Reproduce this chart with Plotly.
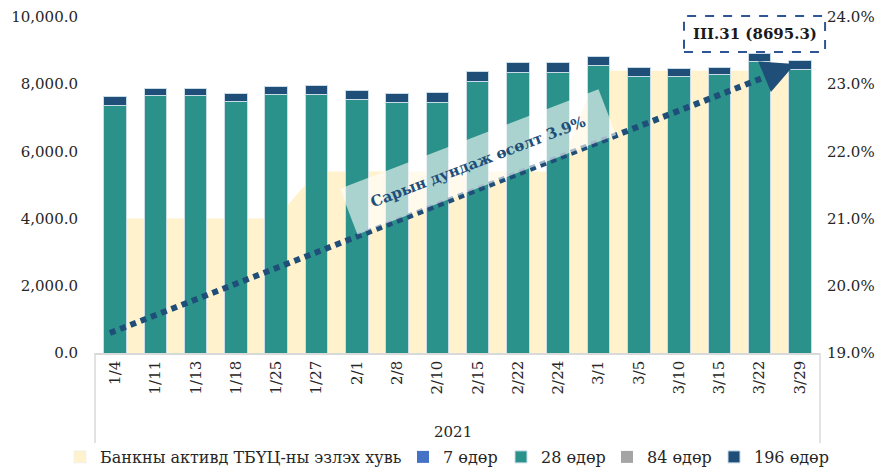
import plotly.graph_objects as go

categories = ["1/4", "1/11", "1/13", "1/18", "1/25", "1/27", "2/1", "2/8", "2/10",
              "2/15", "2/22", "2/24", "3/1", "3/5", "3/10", "3/15", "3/22", "3/29"]
share_pct = [21.0, 21.0, 21.0, 21.0, 21.0, 21.7, 21.7, 21.7, 21.7,
             21.7, 21.7, 21.7, 23.2, 23.2, 23.2, 23.2, 23.2, 23.2]
d7 = [0] * 18
d28 = [7381, 7649, 7649, 7500, 7699, 7699, 7530, 7460, 7460,
       8095, 8363, 8363, 8571, 8244, 8244, 8274, 8661, 8452]
d84 = [0] * 18
d196 = [250, 229, 229, 229, 238, 267, 288, 269, 299,
        277, 287, 277, 268, 258, 218, 218, 238, 243.3]
last_label = "III.31 (8695.3)"
trend_label = "Сарын дундаж өсөлт 3.9%"
group_label = "2021"
legend_names = ["Банкны активд ТБҮЦ-ны эзлэх хувь", "7 өдөр", "28 өдөр", "84 өдөр", "196 өдөр"]

FONT = "DejaVu Serif"
TXT = "#262626"
NAVY = "#1F4E79"
W, H = 881, 468

fig = go.Figure()

# Area on primary (percent, right side) so that bars on y2 draw above it
fig.add_trace(go.Scatter(x=categories, y=share_pct, mode="lines", line=dict(width=0),
                         fill="tozeroy", fillcolor="#FFF2CC", yaxis="y",
                         showlegend=False, hoverinfo="skip"))

bar_line = dict(color="#C9DCE6", width=1)
fig.add_trace(go.Bar(x=categories, y=[None] * len(categories), name=legend_names[0],
                     marker=dict(color="#FFF2CC"), yaxis="y2", legend="legend"))
fig.add_trace(go.Bar(x=categories, y=d7, name=legend_names[1], marker=dict(color="#4472C4", line=dict(width=0)),
                     yaxis="y2", legend="legend2"))
fig.add_trace(go.Bar(x=categories, y=d28, name=legend_names[2], marker=dict(color="#2B918B", line=bar_line),
                     yaxis="y2", legend="legend3"))
fig.add_trace(go.Bar(x=categories, y=d84, name=legend_names[3], marker=dict(color="#A5A5A5", line=dict(width=0)),
                     yaxis="y2", legend="legend4"))
fig.add_trace(go.Bar(x=categories, y=d196, name=legend_names[4], marker=dict(color=NAVY, line=bar_line),
                     yaxis="y2", legend="legend5"))

# Trend dotted line + arrow head
fig.add_shape(type="line", xref="x", yref="y2", x0=-0.13, y0=595, x1=16.45, y1=8360,
              line=dict(color=NAVY, width=6, dash="6px,5px"))
fig.add_annotation(xref="x", yref="y2", x=16.88, y=8601, ax=-24, ay=10,
                   showarrow=True, arrowhead=2, arrowsize=1.1, arrowwidth=6, arrowcolor=NAVY, text="")

# Rotated label box
fig.add_annotation(xref="x", yref="y2", x=9.0, y=5685, text="<b>" + trend_label + "</b>",
                   textangle=-21, showarrow=False, bgcolor="rgba(255,255,255,0.6)",
                   width=274, height=46, font=dict(family=FONT, size=15, color=NAVY))

# Last value dashed box
fig.add_shape(type="rect", xref="paper", yref="paper", x0=0.8124, x1=1.007, y0=0.896, y1=1.003,
              line=dict(color="#2F5597", width=2, dash="dash"), fillcolor="white", layer="above")
fig.add_annotation(xref="paper", yref="paper", x=0.9097, y=0.9495, xanchor="center", yanchor="middle",
                   text="<b>" + last_label + "</b>",
                   showarrow=False, font=dict(family=FONT, size=15, color="#1a1a1a"))

# Category group frame
for xp in (0.0, 1.0):
    fig.add_shape(type="line", xref="paper", yref="paper", x0=xp, x1=xp, y0=0, y1=-0.268,
                  line=dict(color="#D9D9D9", width=1.5))
fig.add_annotation(xref="paper", yref="paper", x=0.494, y=-0.235, xanchor="center", yanchor="middle",
                   text=group_label, showarrow=False, font=dict(family=FONT, size=15, color=TXT))

# One legend per entry, placed by text start pixel
text_starts = [101, 444, 542, 648, 755]
legend_cfg = {}
for i, xs in enumerate(text_starts):
    key = "legend" if i == 0 else f"legend{i + 1}"
    legend_cfg[key] = dict(orientation="h", xref="container", yref="container",
                           x=(xs - 41) / W, xanchor="left", y=(H - 457) / H, yanchor="middle",
                           font=dict(size=16), itemwidth=30, bgcolor="rgba(0,0,0,0)")

fig.update_layout(
    width=W, height=H,
    margin=dict(l=95, r=61, t=17, b=115, autoexpand=False),
    paper_bgcolor="white", plot_bgcolor="white",
    barmode="stack", bargap=0.44,
    font=dict(family=FONT, size=15, color=TXT),
    xaxis=dict(type="category", tickangle=-90, showgrid=False, showline=True, automargin=False,
               linecolor="#D9D9D9", linewidth=1.5, ticks="", tickfont=dict(size=15)),
    yaxis=dict(side="right", range=[19, 24], dtick=1, tickformat=".1f", ticksuffix="%", automargin=False,
               showgrid=False, zeroline=False, ticks="", showline=False, ticklabelstandoff=6),
    yaxis2=dict(side="left", overlaying="y", range=[0, 10000], dtick=2000, tickformat=",.1f", automargin=False,
                showgrid=False, zeroline=False, ticks="", showline=False, ticklabelstandoff=16),
    **legend_cfg,
)

fig.write_html("out.html", config={"displayModeBar": False},
               post_script="document.body.style.margin='0';")
